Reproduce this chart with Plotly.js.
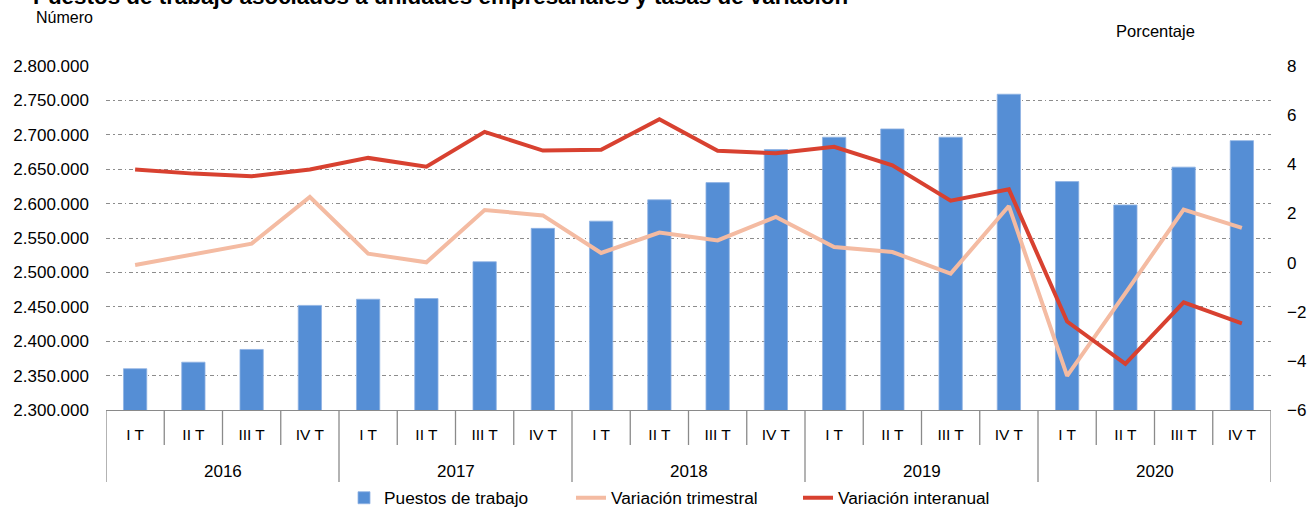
<!DOCTYPE html>
<html>
<head>
<meta charset="utf-8">
<script src="https://cdn.plot.ly/plotly-3.0.1.min.js"></script>
<style>
  html, body { margin: 0; padding: 0; background: #ffffff; }
  #chart { width: 1308px; height: 509px; }
</style>
</head>
<body>
<div id="chart"></div>
<script>
// ---- Data ----
var years = ['2016', '2017', '2018', '2019', '2020'];
var quarters = ['I T', 'II T', 'III T', 'IV T'];

// Puestos de trabajo (número)
var puestos = [2360000, 2369500, 2388000, 2452000,
               2461000, 2462000, 2515500, 2564000,
               2574500, 2605500, 2630500, 2678500,
               2696500, 2708500, 2696500, 2759000,
               2632000, 2598000, 2653000, 2691500];

// Variación trimestral (%)
var varTrimestral = [-0.10, 0.35, 0.77, 2.67,
                     0.36, 0.01, 2.14, 1.92,
                     0.39, 1.22, 0.90, 1.86,
                     0.63, 0.43, -0.45, 2.30,
                     -4.61, -1.24, 2.16, 1.41];

// Variación interanual (%)
var varInteranual = [3.79, 3.62, 3.51, 3.79,
                     4.26, 3.90, 5.32, 4.56,
                     4.59, 5.83, 4.55, 4.45,
                     4.71, 3.96, 2.52, 2.98,
                     -2.40, -4.12, -1.62, -2.47];

var titleText = 'Puestos de trabajo asociados a unidades empresariales y tasas de variación';
var seriesNames = ['Puestos de trabajo', 'Variación trimestral', 'Variación interanual'];

// ---- Build categories ----
var cats = [], catLabels = [];
years.forEach(function (y) {
  quarters.forEach(function (q) {
    cats.push(y + ' ' + q);
    catLabels.push(q);
  });
});

var FONT = 'Liberation Sans, Arial, sans-serif';
var AXIS_GRAY = '#8a8a8a';

var traces = [
  {
    type: 'bar', name: seriesNames[0], x: cats, y: puestos,
    marker: { color: '#558ed5', line: { color: '#8fb3e3', width: 0.8 } },
    yaxis: 'y', hoverinfo: 'x+y'
  },
  {
    type: 'scatter', mode: 'lines', name: seriesNames[1], x: cats, y: varTrimestral,
    line: { color: '#f4bba2', width: 4 }, yaxis: 'y2'
  },
  {
    type: 'scatter', mode: 'lines', name: seriesNames[2], x: cats, y: varInteranual,
    line: { color: '#d84130', width: 4 }, yaxis: 'y2'
  }
];

// Plot area in pixels
var W = 1308, H = 509;
var L = 106, R = 37, T = 66, B = 99;
var plotH = H - T - B;
var plotW = W - L - R;
function py(p) { return (H - B - p) / plotH; } // pixel y -> paper y
function px(p) { return (p - L) / plotW; }     // pixel x -> paper x

var shapes = [];
// Quarter separators (short ticks) and year dividers (long)
for (var i = 0; i <= cats.length; i++) {
  var isYear = (i % quarters.length === 0);
  shapes.push({
    type: 'line', xref: 'x', yref: 'paper',
    x0: i - 0.5, x1: i - 0.5, y0: 0, y1: isYear ? py(482) : py(445),
    line: { color: AXIS_GRAY, width: 1.3 }
  });
}

var annotations = [];
years.forEach(function (y, k) {
  annotations.push({
    xref: 'x', yref: 'paper', x: k * quarters.length + (quarters.length - 1) / 2, y: py(471),
    text: y, showarrow: false, xanchor: 'center', yanchor: 'middle',
    font: { family: FONT, size: 17, color: '#000' }
  });
});
annotations.push({
  xref: 'paper', yref: 'paper', x: px(34), y: py(18),
  text: 'Número', showarrow: false, xanchor: 'left', yanchor: 'middle',
  font: { family: FONT, size: 16, color: '#000' }
});
annotations.push({
  xref: 'paper', yref: 'paper', x: px(1114), y: py(31),
  text: 'Porcentaje', showarrow: false, xanchor: 'left', yanchor: 'middle',
  font: { family: FONT, size: 16.5, color: '#000' }
});

var layout = {
  width: W, height: H,
  margin: { l: L, r: R, t: T, b: B, pad: 0, autoexpand: false },
  paper_bgcolor: '#ffffff', plot_bgcolor: '#ffffff',
  separators: ',.',
  font: { family: FONT, size: 16, color: '#000' },
  title: {
    text: '<b>' + titleText + '</b>',
    xref: 'container', yref: 'container',
    x: 33 / W, xanchor: 'left',
    y: 1 - 4 / H, yanchor: 'bottom',
    font: { family: FONT, size: 22.4, color: '#000' },
    pad: { t: 0, b: 0, l: 0, r: 0 }
  },
  showlegend: true,
  legend: {
    orientation: 'h', xref: 'paper', yref: 'paper',
    x: px(344), xanchor: 'left',
    y: py(498), yanchor: 'middle',
    font: { family: FONT, size: 17.3, color: '#000' },
    bgcolor: 'rgba(0,0,0,0)', borderwidth: 0,
    entrywidth: 182, entrywidthmode: 'pixels',
    traceorder: 'normal'
  },
  bargap: 0.6,
  xaxis: {
    type: 'category', categoryorder: 'array', categoryarray: cats,
    range: [-0.5, cats.length - 0.5],
    tickvals: cats, ticktext: catLabels,
    ticks: '', ticklabelstandoff: 10,
    tickfont: { family: FONT, size: 15.5, color: '#000' },
    showline: true, linecolor: AXIS_GRAY, linewidth: 1.3,
    showgrid: false, zeroline: false, fixedrange: true
  },
  yaxis: {
    range: [2300000, 2800000], dtick: 50000, tick0: 2300000,
    tickformat: ',d',
    ticks: '', ticklabelstandoff: 16,
    tickfont: { family: FONT, size: 17, color: '#000' },
    showgrid: true, gridcolor: '#8c8c8c', gridwidth: 1, griddash: '4px,3px,1.5px,3px',
    showline: false, zeroline: false, fixedrange: true
  },
  yaxis2: {
    overlaying: 'y', side: 'right',
    range: [-6, 8], dtick: 2, tick0: -6,
    ticks: '', ticklabelstandoff: 15,
    tickfont: { family: FONT, size: 17, color: '#000' },
    showgrid: false, showline: false, zeroline: false, fixedrange: true
  },
  shapes: shapes,
  annotations: annotations
};

Plotly.newPlot('chart', traces, layout, { displayModeBar: false, staticPlot: true });
</script>
</body>
</html>
